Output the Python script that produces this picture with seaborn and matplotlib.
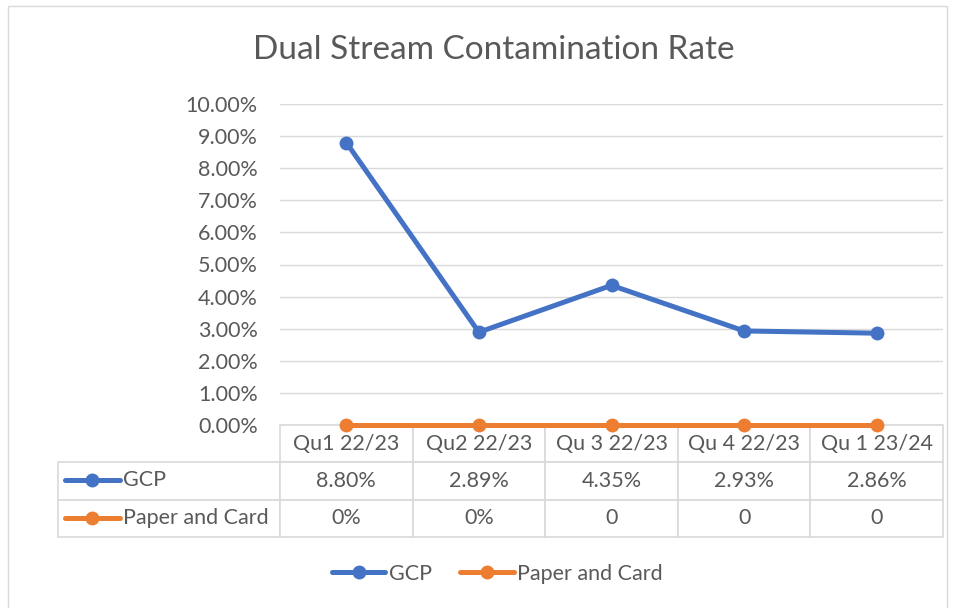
import matplotlib
matplotlib.use('Agg')
import matplotlib.pyplot as plt
import seaborn as sns
import numpy as np
import pandas as pd
from matplotlib.lines import Line2D
from matplotlib.patches import Rectangle
from matplotlib.ticker import PercentFormatter

# data
quarters = ['Qu1 22/23', 'Qu2 22/23', 'Qu 3 22/23', 'Qu 4 22/23', 'Qu 1 23/24']
series_names = ['GCP', 'Paper and Card']
gcp_rate = [0.0880, 0.0289, 0.0435, 0.0293, 0.0286]
paper_rate = [0.0, 0.0, 0.0, 0.0, 0.0]
gcp_labels = ['8.80%', '2.89%', '4.35%', '2.93%', '2.86%']
paper_labels = ['0%', '0%', '0', '0', '0']

colors = ['#4472C4', '#ED7D31']
grey_text = '#595959'
grid_col = '#D9D9D9'
fs = 15.5

sns.set_style('white')
plt.rcParams['font.family'] = ['Lato', 'DejaVu Sans']

df = pd.DataFrame({
    'quarter': quarters * 2,
    'rate': gcp_rate + paper_rate,
    'series': [series_names[0]] * 5 + [series_names[1]] * 5,
})

W, H = 956, 608
fig = plt.figure(figsize=(W / 100, H / 100), dpi=100)
# plot area in pixels: x 280-943, y 104-425
px_l, px_r, px_t, px_b = 280, 943, 104, 425
ax = fig.add_axes([px_l / W, 1 - px_b / H, (px_r - px_l) / W, (px_b - px_t) / H])

# chart border
fig.add_artist(Rectangle((8 / W, -0.1), (947 - 8) / W, 1.1 - 6 / H,
                         transform=fig.transFigure, fill=False,
                         edgecolor='#D9D9D9', linewidth=1))

sns.lineplot(data=df, x='quarter', y='rate', hue='series', palette=colors,
             marker='o', markersize=10, markeredgewidth=0, linewidth=3.6,
             ax=ax, legend=False, sort=False)

ax.set_xlim(-0.5, 4.5)
ax.set_ylim(0, 0.10)
ax.set_yticks(np.arange(0, 0.1001, 0.01))
ax.yaxis.set_major_formatter(PercentFormatter(1.0, decimals=2))
ax.tick_params(axis='y', labelsize=fs, labelcolor=grey_text, length=0, pad=16)
ax.set_xticks([])
ax.set_xlabel('')
ax.set_ylabel('')
ax.grid(axis='y', color=grid_col, linewidth=1)
for s in ax.spines.values():
    s.set_visible(False)
for ln in ax.lines:
    ln.set_clip_on(False)
    ln.set_zorder(5)

fig.text(494 / W, 1 - 50 / H, 'Dual Stream Contamination Rate', fontsize=24,
         color=grey_text, ha='center', va='center')

# data table below the axes
tbl_l, tbl_b = 58, 537
cell_text = [[''] + gcp_labels, [''] + paper_labels]
col_w = [(px_l - tbl_l)] + [(px_r - px_l) / 5] * 5
tot = sum(col_w)
tbl = ax.table(cellText=cell_text, colLabels=[''] + quarters,
               colWidths=[c / tot for c in col_w], cellLoc='center',
               bbox=[(tbl_l - px_l) / (px_r - px_l), -(tbl_b - px_b) / (px_b - px_t),
                     (px_r - tbl_l) / (px_r - px_l), (tbl_b - px_b) / (px_b - px_t)])
tbl.auto_set_font_size(False)
for (r, c), cell in tbl.get_celld().items():
    cell.set_edgecolor(grid_col)
    cell.set_linewidth(1.2)
    cell.get_text().set_fontsize(fs)
    cell.get_text().set_color(grey_text)
    if r == 0 and c == 0:
        cell.visible_edges = ''

# series keys inside the table's row labels
row_y = [480, 518]
for name, col, y in zip(series_names, colors, row_y):
    fy = 1 - y / H
    fig.add_artist(Line2D([65 / W, 120 / W], [fy, fy], color=col, linewidth=3.6,
                          solid_capstyle='round'))
    fig.add_artist(Line2D([92 / W], [fy], color=col, marker='o', markersize=10,
                          markeredgewidth=0))
    fig.text(123 / W, fy, name, fontsize=fs, color=grey_text, va='center')

# bottom legend
handles = [Line2D([0], [0], color=c, linewidth=3.6, marker='o', markersize=10,
                  markeredgewidth=0, solid_capstyle='round') for c in colors]
fig.legend(handles, series_names, loc='center', bbox_to_anchor=(497 / W, 1 - 574 / H),
           ncol=2, frameon=False, fontsize=fs, handlelength=2.5,
           handletextpad=0.15, columnspacing=1.3, labelcolor=grey_text)

fig.savefig('out.png', dpi=100)
